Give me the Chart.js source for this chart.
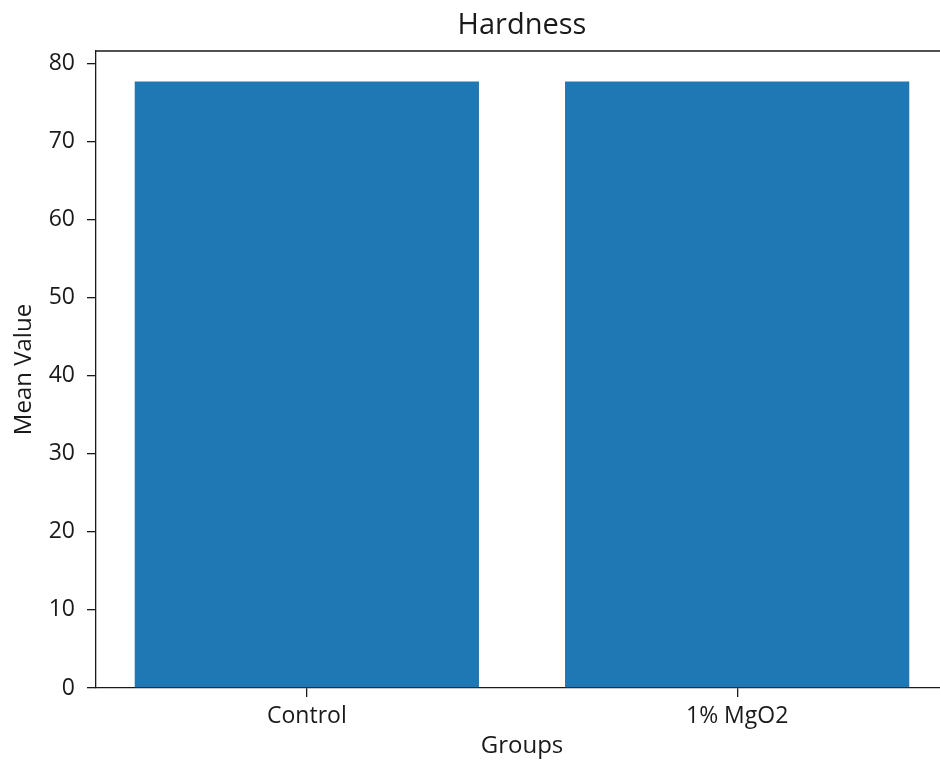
<!DOCTYPE html>
<html>
<head>
<meta charset="utf-8">
<script src="https://cdn.jsdelivr.net/npm/chart.js@4"></script>
<style>
  html, body { margin: 0; padding: 0; background: #fff; overflow: hidden; }
  #wrap { width: 940px; height: 763px; overflow: hidden; position: relative; }
  #c { position: absolute; left: 0; top: 0; }
</style>
</head>
<body>
<div id="wrap"><canvas id="c" width="960" height="763"></canvas></div>
<script>
const categories = ['Control', '1% MgO2'];
const meanValues = [77.7, 77.7];
const yTicks = [0, 10, 20, 30, 40, 50, 60, 70, 80];
const yMax = 81.6;
const xRange = [-0.49, 1.49];

const FONT = "'Open Sans', 'Noto Sans', sans-serif";
const TXT = '#1a1a1a';

const framePlugin = {
  id: 'frame',
  afterDraw(chart) {
    const { ctx, chartArea: a } = chart;
    ctx.save();
    ctx.strokeStyle = TXT;
    ctx.lineWidth = 1.3;
    ctx.beginPath();
    ctx.moveTo(a.left, a.top);
    ctx.lineTo(a.right, a.top);
    ctx.lineTo(a.right, a.bottom);
    ctx.stroke();
    ctx.fillStyle = TXT;
    ctx.font = "29px " + FONT;
    ctx.textAlign = 'center';
    ctx.textBaseline = 'middle';
    ctx.fillText('Hardness', (a.left + a.right) / 2, 26);
    ctx.restore();
  }
};

new Chart(document.getElementById('c'), {
  type: 'bar',
  data: {
    datasets: [{
      data: meanValues.map((v, i) => ({ x: i, y: v })),
      backgroundColor: '#1f77b4',
      borderWidth: 0,
      categoryPercentage: 1.0,
      barPercentage: 0.8
    }]
  },
  options: {
    responsive: false,
    animation: false,
    devicePixelRatio: 1,
    layout: { padding: { top: 51, left: 0, right: 12, bottom: 0 } },
    plugins: { legend: { display: false }, tooltip: { enabled: false }, title: { display: false } },
    scales: {
      x: {
        type: 'linear',
        offset: false,
        min: xRange[0],
        max: xRange[1],
        afterBuildTicks(s) { s.ticks = categories.map((c, i) => ({ value: i })); },
        afterFit(s) { s.height = 75; },
        ticks: {
          callback: (v) => categories[v],
          color: TXT,
          font: { family: FONT, size: 23 },
          padding: 6,
          maxRotation: 0,
          autoSkip: false
        },
        grid: { offset: false, drawOnChartArea: false, tickLength: 9, color: TXT, lineWidth: 1.3 },
        border: { display: true, color: TXT, width: 1.3 },
        title: { display: true, text: 'Groups', color: TXT, font: { family: FONT, size: 24 }, padding: { top: 0, bottom: 2 } }
      },
      y: {
        min: 0,
        max: yMax,
        afterBuildTicks(s) { s.ticks = yTicks.map(v => ({ value: v })); },
        afterFit(s) { s.width = 96; },
        ticks: {
          color: TXT,
          font: { family: FONT, size: 23 },
          padding: 12
        },
        grid: { drawOnChartArea: false, tickLength: 9, color: TXT, lineWidth: 1.3 },
        border: { display: true, color: TXT, width: 1.3 },
        title: { display: true, text: 'Mean Value', color: TXT, font: { family: FONT, size: 24 }, padding: { top: 10, bottom: 0 } }
      }
    }
  },
  plugins: [framePlugin]
});
</script>
</body>
</html>
